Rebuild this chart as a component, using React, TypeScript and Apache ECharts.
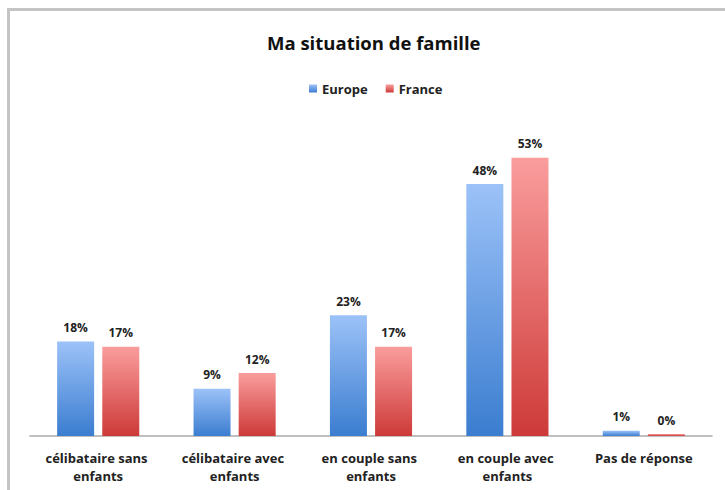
import React, { useEffect, useRef } from "react";
import * as echarts from "echarts";

const categories = [
  "célibataire sans enfants",
  "célibataire avec enfants",
  "en couple sans enfants",
  "en couple avec enfants",
  "Pas de réponse",
];
const europe = [18, 9, 23, 48, 1];
const france = [17, 12, 17, 53, 0];
const seriesNames = ["Europe", "France"];
const chartTitle = "Ma situation de famille";

const FONT = "'Open Sans', Lato, sans-serif";

export default function App() {
  const ref = useRef<HTMLDivElement>(null);
  useEffect(() => {
    if (!ref.current) return;
    const chart = echarts.init(ref.current, undefined, { renderer: "svg" });
    const grad = (top: string, bottom: string) =>
      new echarts.graphic.LinearGradient(0, 0, 0, 1, [
        { offset: 0, color: top },
        { offset: 1, color: bottom },
      ]);
    const label = {
      show: true,
      position: "top" as const,
      distance: 8,
      formatter: (p: any) => `${p.value}%`,
      color: "#222",
      fontFamily: FONT,
      fontWeight: "bold" as const,
      fontSize: 12,
    };
    chart.setOption({
      animation: false,
      backgroundColor: "#ffffff",
      title: {
        text: chartTitle,
        left: 262,
        top: 28,
        textStyle: {
          fontFamily: FONT,
          fontWeight: "bold",
          fontSize: 18.5,
          color: "#111",
        },
      },
      legend: {
        data: seriesNames,
        top: 77,
        left: 304,
        itemWidth: 8,
        itemHeight: 8,
        itemGap: 18,
        icon: "rect",
        textStyle: {
          fontFamily: FONT,
          fontWeight: "bold",
          fontSize: 13,
          color: "#222",
        },
      },
      grid: { left: 30, right: 13, top: 121, bottom: 54, containLabel: false },
      xAxis: {
        type: "category",
        data: categories,
        axisLine: { lineStyle: { color: "#aaaaaa", width: 1.5 } },
        axisTick: { show: false },
        axisLabel: {
          interval: 0,
          width: 124,
          overflow: "break",
          margin: 13,
          lineHeight: 18,
          color: "#222",
          fontFamily: FONT,
          fontWeight: "bold",
          fontSize: 13,
        },
      },
      yAxis: {
        type: "value",
        min: 0,
        max: 60,
        show: false,
        splitLine: { show: false },
      },
      series: [
        {
          name: seriesNames[0],
          type: "bar",
          data: europe,
          barWidth: 37,
          barGap: "22%",
          barMinHeight: 2,
          itemStyle: { color: grad("#9cc2f8", "#3b7dd0") },
          label,
        },
        {
          name: seriesNames[1],
          type: "bar",
          data: france,
          barWidth: 37,
          barMinHeight: 2,
          itemStyle: { color: grad("#fa9d9d", "#cd3a38") },
          label,
        },
      ],
      graphic: [
        {
          type: "line",
          shape: { x1: 7, y1: 9.5, x2: 725, y2: 9.5 },
          style: { stroke: "#c4c4c4", lineWidth: 3 },
          silent: true,
        },
        {
          type: "line",
          shape: { x1: 8.5, y1: 8, x2: 8.5, y2: 490 },
          style: { stroke: "#c4c4c4", lineWidth: 3 },
          silent: true,
        },
      ],
    });
    return () => chart.dispose();
  }, []);
  return (
    <div
      ref={ref}
      style={{ width: 725, height: 490, position: "fixed", left: 0, top: 0 }}
    />
  );
}
